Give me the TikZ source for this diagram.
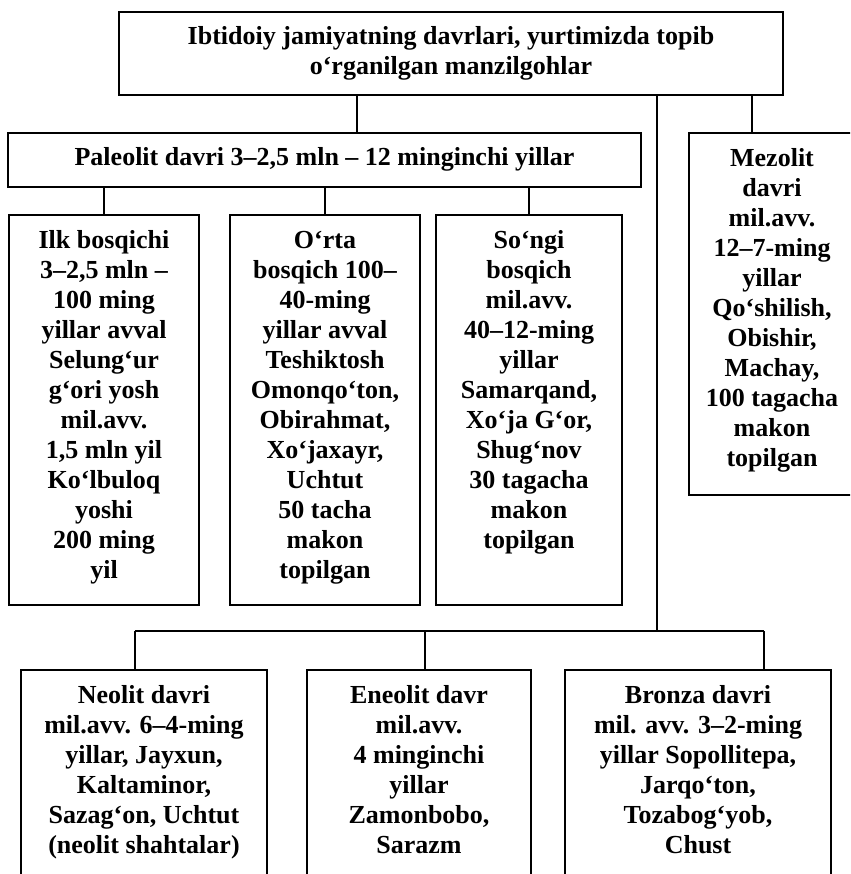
\documentclass[tikz,border=0pt]{standalone}
\usepackage{fontspec}
\setmainfont{Liberation Serif}
\usepackage{tikz}
\tikzset{
labrect/.style={draw, line width=1.5pt, inner sep=0pt},
labtext/.style={anchor=north, inner sep=0pt, align=center, font=\fontsize{26}{30}\selectfont\bfseries}
}
\newcommand{\labbox}[6]{
\node[labrect, minimum width={(#4-#2)*1pt}, minimum height={(#5-#3)*1pt}] (#1) at ({(#2+#4)/2},{(#3+#5)/2}) {};
\node[labtext] (#1-t) at ([yshift=-12pt]#1.north) {\strut #6};
}

\begin{document}
\begin{tikzpicture}[x=1pt,y=-1pt,line width=1.5pt]
\useasboundingbox (0,0) rectangle (850,874);
\clip (0,0) rectangle (850,874);

\labbox{top}{119}{12}{783}{95}{Ibtidoiy jamiyatning davrlari, yurtimizda topib\\o‘rganilgan manzilgohlar}
\labbox{pal}{8}{133}{641}{187}{Paleolit davri 3–2,5 mln – 12 minginchi yillar}
\labbox{mez}{689}{133}{855}{495}{Mezolit\\davri\\mil.avv.\\12–7-ming\\yillar\\Qo‘shilish,\\Obishir,\\Machay,\\100 tagacha\\makon\\topilgan}

\labbox{ilk}{9}{215}{199}{605}{Ilk bosqichi\\3–2,5 mln –\\100 ming\\yillar avval\\Selung‘ur\\g‘ori yosh\\mil.avv.\\1,5 mln yil\\Ko‘lbuloq\\yoshi\\200 ming\\yil}
\labbox{orta}{230}{215}{420}{605}{O‘rta\\bosqich 100–\\40-ming\\yillar avval\\Teshiktosh\\Omonqo‘ton,\\Obirahmat,\\Xo‘jaxayr,\\Uchtut\\50 tacha\\makon\\topilgan}
\labbox{songi}{436}{215}{622}{605}{So‘ngi\\bosqich\\mil.avv.\\40–12-ming\\yillar\\Samarqand,\\Xo‘ja G‘or,\\Shug‘nov\\30 tagacha\\makon\\topilgan}

\labbox{neo}{21}{670}{267}{900}{Neolit davri\\mil.avv. 6–4-ming\\yillar, Jayxun,\\Kaltaminor,\\Sazag‘on, Uchtut\\(neolit shahtalar)}
\labbox{ene}{307}{670}{531}{900}{Eneolit davr\\mil.avv.\\4 minginchi\\yillar\\Zamonbobo,\\Sarazm}
\labbox{bro}{565}{670}{831}{900}{Bronza davri\\mil. avv. 3–2-ming\\yillar Sopollitepa,\\Jarqo‘ton,\\Tozabog‘yob,\\Chust}

\coordinate (xpal) at (357,0);
\coordinate (xmez) at (752,0);
\coordinate (bus) at (657,631);
\coordinate (bneo) at (135,631);
\coordinate (bene) at (425,631);
\coordinate (bbro) at (764,631);

\draw (top.south -| xpal) -- (pal.north -| xpal);
\draw (top.south -| xmez) -- (mez.north -| xmez);
\draw (top.south -| bus) -- (bus);
\draw (bneo) -- (bbro);
\draw (bneo) -- (neo.north -| bneo);
\draw (bene) -- (ene.north -| bene);
\draw (bbro) -- (bro.north -| bbro);

\draw (pal.south -| ilk.north) -- (ilk.north);
\draw (pal.south -| orta.north) -- (orta.north);
\draw (pal.south -| songi.north) -- (songi.north);
\end{tikzpicture}
\end{document}
